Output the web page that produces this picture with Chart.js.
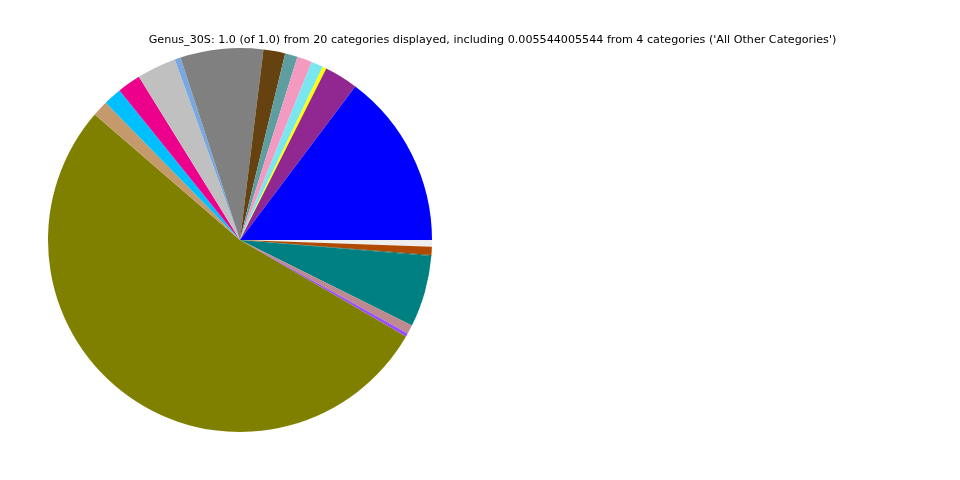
<!DOCTYPE html>
<html>
<head>
<meta charset="utf-8">
<script src="https://cdn.jsdelivr.net/npm/chart.js@4"></script>
<style>
  html, body { margin: 0; padding: 0; background: #fff; }
  #pie { display: block; }
</style>
</head>
<body>
<canvas id="pie" width="960" height="480"></canvas>
<script>
// slices in matplotlib order (counterclockwise from 3 o'clock)
const categories = [
  'c01', 'c02', 'c03', 'c04', 'c05', 'c06', 'c07', 'c08', 'c09', 'c10',
  'c11', 'c12', 'c13', 'c14', 'c15', 'c16', 'c17', 'c18', 'c19', 'All Other Categories'
];
const shares = [
  0.1475, 0.0283, 0.0033, 0.0100, 0.0125, 0.0106, 0.0183, 0.0697, 0.0050, 0.0331,
  0.0197, 0.0153, 0.0133, 0.5297, 0.0028, 0.0075, 0.0603, 0.0008, 0.0069, 0.0055
];
const colours = [
  '#0000ff', '#912891', '#ffff00', '#7ae6f0', '#f49ac1', '#5f9ea0', '#65420f', '#808080', '#78a8e0', '#c0c0c0',
  '#ec008c', '#00bfff', '#c49a6c', '#808000', '#9a4dff', '#bc8a8f', '#008080', '#2f4f2f', '#b04a00', '#eeeeee'
];
const titleText = "Genus_30S: 1.0 (of 1.0) from 20 categories displayed, including 0.005544005544 from 4 categories ('All Other Categories')";

// chart.js goes clockwise, so feed the slices backwards starting at 3 o'clock
const labels = categories.slice().reverse();
const values = shares.slice().reverse();
const bg = colours.slice().reverse();

const titlePlugin = {
  id: 'figTitle',
  afterDraw(chart) {
    const ctx = chart.ctx;
    ctx.save();
    ctx.font = '11.15px "DejaVu Sans"';
    ctx.fillStyle = '#000';
    ctx.textAlign = 'center';
    ctx.textBaseline = 'middle';
    ctx.fillText(titleText, 492.5, 40);
    ctx.restore();
  }
};

new Chart(document.getElementById('pie'), {
  type: 'pie',
  data: {
    labels: labels,
    datasets: [{
      data: values,
      backgroundColor: bg,
      borderWidth: 0,
      hoverOffset: 0
    }]
  },
  options: {
    responsive: false,
    animation: false,
    events: [],
    rotation: 90,
    layout: { padding: { left: 48, top: 48, right: 528, bottom: 48 } },
    plugins: {
      legend: { display: false },
      title: { display: false },
      tooltip: { enabled: false }
    }
  },
  plugins: [titlePlugin]
});
</script>
</body>
</html>
